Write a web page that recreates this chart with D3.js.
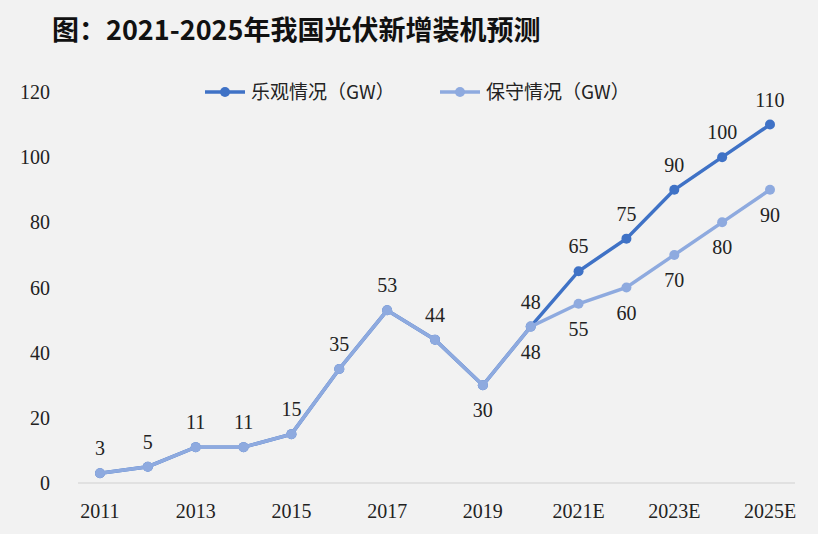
<!DOCTYPE html><html><head><meta charset="utf-8">
<script src="https://cdn.jsdelivr.net/npm/d3@7"></script>
<style>body{margin:0;background:#f2f2f2}</style></head><body>
<svg id="c" width="818" height="534"></svg>
<script>
const categories=["2011","2012","2013","2014","2015","2016","2017","2018","2019","2020","2021E","2022E","2023E","2024E","2025E"];
const tickLabels=["2011","2013","2015","2017","2019","2021E","2023E","2025E"];
const optimistic=[3,5,11,11,15,35,53,44,30,48,65,75,90,100,110];
const conservative=[3,5,11,11,15,35,53,44,30,48,55,60,70,80,90];
const yTicks=[0,20,40,60,80,100,120];
const svg=d3.select("#c");
svg.append("rect").attr("width",818).attr("height",534).attr("fill","#f2f2f2");
svg.append("text").attr("x",52).attr("y",40).attr("font-family","Noto Sans CJK SC").attr("font-weight","bold").attr("font-size",27).attr("fill","#111").text("图：2021-2025年我国光伏新增装机预测");
const x=d3.scalePoint().domain(categories).range([100,770]);
const y=d3.scaleLinear().domain([0,120]).range([483,92]);
svg.append("line").attr("x1",78).attr("x2",795).attr("y1",483).attr("y2",483).attr("stroke","#d0d0d0");
const serif="Liberation Serif";
svg.selectAll(".yt").data(yTicks).enter().append("text").attr("x",50).attr("y",d=>y(d)+7).attr("text-anchor","end").attr("font-family",serif).attr("font-size",20).attr("fill","#222").text(d=>d);
svg.selectAll(".xt").data(tickLabels).enter().append("text").attr("x",d=>x(d)).attr("y",518).attr("text-anchor","middle").attr("font-family",serif).attr("font-size",20).attr("fill","#222").text(d=>d);
const dark="#3f72c6",light="#8eaadf";
const line=d3.line().x((d,i)=>x(categories[i])).y(d=>y(d));
function series(vals,col){
  svg.append("path").attr("d",line(vals)).attr("fill","none").attr("stroke",col).attr("stroke-width",3.5);
  svg.selectAll(null).data(vals).enter().append("circle").attr("cx",(d,i)=>x(categories[i])).attr("cy",d=>y(d)).attr("r",5).attr("fill",col);
}
series(optimistic,dark);series(conservative,light);
function lab(i,v,above){svg.append("text").attr("x",x(categories[i])).attr("y",above?y(v)-18:y(v)+32).attr("text-anchor","middle").attr("font-family",serif).attr("font-size",20).attr("fill","#222").text(v);}
optimistic.forEach((v,i)=>lab(i,v,i!==8));
conservative.forEach((v,i)=>{if(i>=9)lab(i,v,false);});
[[dark,"乐观情况（GW）",205],[light,"保守情况（GW）",440]].forEach(([c,t,lx])=>{
  svg.append("line").attr("x1",lx).attr("x2",lx+40).attr("y1",92).attr("y2",92).attr("stroke",c).attr("stroke-width",3.5);
  svg.append("circle").attr("cx",lx+20).attr("cy",92).attr("r",5).attr("fill",c);
  svg.append("text").attr("x",lx+46).attr("y",99).attr("font-family","Noto Sans CJK SC").attr("font-size",19).attr("fill","#222").text(t);
});
</script></body></html>
